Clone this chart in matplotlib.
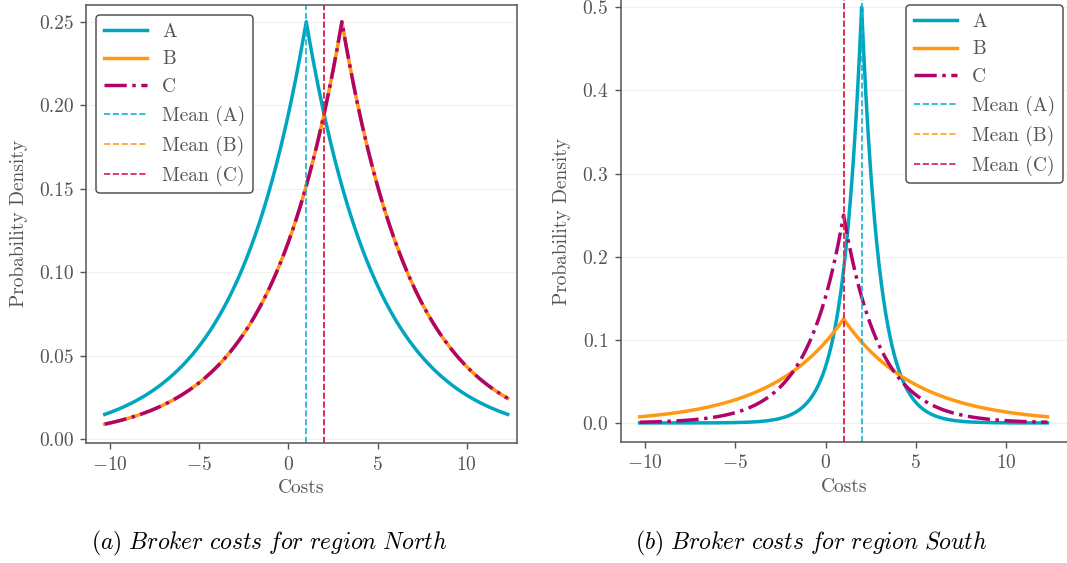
import numpy as np
import matplotlib
matplotlib.use("Agg")
from matplotlib import pyplot as plt

plt.rcParams['font.family'] = ['cmr10', 'DejaVu Serif']
plt.rcParams['mathtext.fontset'] = 'cm'
plt.rcParams['axes.formatter.use_mathtext'] = True
plt.rcParams['font.size'] = 14

# curves: Laplace-shaped densities, peak height, centre and decay scale
labels = ["A", "B", "C"]
north_peak = [0.25, 0.25, 0.25]
north_loc = [1.0, 3.0, 3.0]
north_scale = [4.0, 4.0, 4.0]
north_mean = [1.0, 2.0, 2.0]

south_peak = [0.5, 0.125, 0.25]
south_loc = [2.0, 1.0, 1.0]
south_scale = [1.0, 4.0, 2.0]
south_mean = [2.0, 1.0, 1.0]

x_lo, x_hi = -10.3, 12.3

line_cols = ["#00a5bf", "#ff9914", "#b0046b"]
mean_cols = ["#18b2d4", "#ffa126", "#d6195f"]
styles = ["-", "-", "-."]
gray = "#555555"


def density(peak, loc, scale):
    x = np.union1d(np.linspace(x_lo, x_hi, 1500), [loc])
    return x, peak * np.exp(-np.abs(x - loc) / scale)


def panel(ax, peaks, locs, scales, means):
    for lab, p, m, s, c, ls in zip(labels, peaks, locs, scales, line_cols, styles):
        x, y = density(p, m, s)
        ax.plot(x, y, color=c, lw=2.5, ls=ls, label=lab)
    for lab, mu, c in zip(labels, means, mean_cols):
        ax.axvline(mu, color=c, lw=1.2, ls="--", label="Mean (%s)" % lab)
    ax.set_xlabel("Costs", color=gray, labelpad=4)
    ax.set_ylabel("Probability Density", color=gray, labelpad=8)
    ax.set_xticks([-10, -5, 0, 5, 10])
    ax.grid(axis="y", color="#f0f0f0", lw=0.8)
    ax.set_axisbelow(True)
    ax.tick_params(colors=gray, direction="out", length=4, width=1, pad=5)
    for sp in ax.spines.values():
        sp.set_color(gray)
        sp.set_linewidth(1.1)


fig = plt.figure(figsize=(10.67, 5.63), dpi=100)
W, H = 1067.0, 563.0

ax1 = fig.add_axes([86 / W, 1 - 443 / H, 431 / W, (443 - 4.7) / H])
panel(ax1, north_peak, north_loc, north_scale, north_mean)
ax1.set_xlim(-11.35, 12.82)
ax1.set_ylim(-0.0023, 0.2602)
ax1.set_yticks([0.0, 0.05, 0.10, 0.15, 0.20, 0.25])
ax1.set_yticklabels(["0.00", "0.05", "0.10", "0.15", "0.20", "0.25"])
leg1 = ax1.legend(loc="upper left", bbox_to_anchor=(96 / W, 1 - 15 / H),
                  bbox_transform=fig.transFigure, borderaxespad=0,
                  handlelength=2.2, labelcolor=gray, framealpha=1)

ax2 = fig.add_axes([620.7 / W, 1 - 442 / H, (W - 620.7) / W, 442 / H])
panel(ax2, south_peak, south_loc, south_scale, south_mean)
ax2.set_xlim(-11.35, 13.38)
ax2.set_ylim(-0.0229, 0.5087)
ax2.set_yticks([0.0, 0.1, 0.2, 0.3, 0.4, 0.5])
ax2.spines["top"].set_visible(False)
ax2.spines["right"].set_visible(False)
leg2 = ax2.legend(loc="upper right", bbox_to_anchor=(1063 / W, 1 - 5 / H),
                  bbox_transform=fig.transFigure, borderaxespad=0,
                  handlelength=2.2, labelcolor=gray, framealpha=1)

for leg in (leg1, leg2):
    leg.get_frame().set_edgecolor(gray)
    leg.get_frame().set_linewidth(1.1)

fig.text(268.7 / W, 1 - 543 / H, r"$\mathit{(a)\ Broker\ costs\ for\ region\ North}$",
         ha="center", va="center", fontsize=17)
fig.text(810.8 / W, 1 - 543 / H, r"$\mathit{(b)\ Broker\ costs\ for\ region\ South}$",
         ha="center", va="center", fontsize=17)

fig.savefig("out.png", dpi=100)
